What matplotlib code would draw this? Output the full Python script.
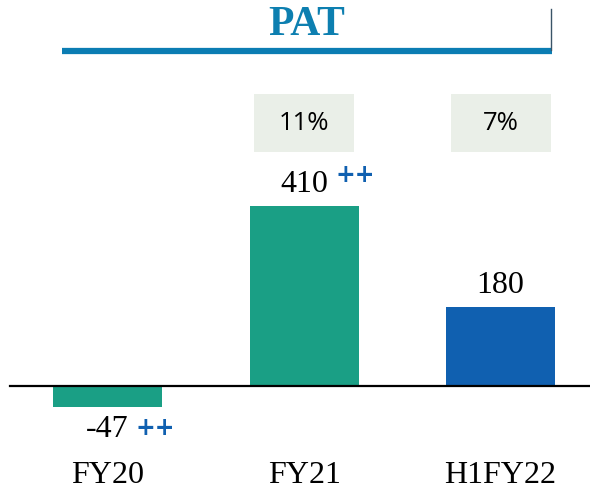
import matplotlib
matplotlib.use("Agg")
import matplotlib.pyplot as plt
from matplotlib.lines import Line2D
from matplotlib.patches import Rectangle

# Profit after tax (PAT), in crores
categories = ["FY20", "FY21", "H1FY22"]
pat_values = [-47, 410, 180]
margins = [None, "11%", "7%"]
growth_marks = ["++", "++", ""]

bar_colors = ["#1a9f85", "#1a9f85", "#1060b0"]
serif = ["Liberation Serif", "DejaVu Serif"]
sans = ["Open Sans", "DejaVu Sans"]

W, H = 590, 491
fig = plt.figure(figsize=(W / 100, H / 100), dpi=100)
ax = fig.add_axes([0, 0, 1, 1])

x = list(range(len(categories)))
ax.bar(x, pat_values, width=0.555, color=bar_colors, zorder=2)

ax.set_xlim(-0.547, 2.455)
ax.set_ylim(-239, 879)
ax.axis("off")

# zero line
ax.axhline(0, xmin=10 / W, xmax=1.0, color="black", lw=1.6, zorder=3)

for xi, v, mark, cat in zip(x, pat_values, growth_marks, categories):
    if v >= 0:
        ax.annotate(f"{v}", (xi, v), xytext=(0, 5), textcoords="offset points",
                    ha="center", va="bottom", fontsize=23, family=serif)
        mark_off = (23, 22)
    else:
        ax.annotate(f"{v}", (xi, v), xytext=(0, -6), textcoords="offset points",
                    ha="center", va="top", fontsize=23, family=serif)
        mark_off = (20.5, -15)
    if mark:
        ax.annotate(mark, (xi, v), xytext=mark_off, textcoords="offset points",
                    ha="left", va="center", fontsize=17, fontweight="bold",
                    color="#1060b0", family=["DejaVu Sans"])
    # category label
    ax.annotate(cat, (xi, 0), xytext=(0, -54), textcoords="offset points",
                ha="center", va="top", fontsize=23, family=serif)

# margin boxes above the bars
for xi, m in zip(x, margins):
    if m is None:
        continue
    cx = ax.transData.transform((xi, 0))[0] / W
    bw, bh = 100 / W, 58 / H
    cy = 1 - 123 / H
    fig.add_artist(Rectangle((cx - bw / 2, cy - bh / 2), bw, bh,
                             transform=fig.transFigure, facecolor="#eaefe8",
                             edgecolor="none", zorder=1))
    fig.text(cx, cy, m, ha="center", va="center", fontsize=18.5, family=sans)

# title with underline
fig.text(307 / W, 1 - 25 / H, "PAT", ha="center", va="center", fontsize=30,
         fontweight="bold", color="#0d7fb0", family=serif)
fig.add_artist(Line2D([62 / W, 552 / W], [1 - 50.5 / H, 1 - 50.5 / H],
                      transform=fig.transFigure, color="#0b7db3", lw=4.5,
                      solid_capstyle="butt"))
fig.add_artist(Line2D([551 / W, 551 / W], [1 - 9 / H, 1 - 50 / H],
                      transform=fig.transFigure, color="#3a5468", lw=1))

fig.savefig("out.png", dpi=100)
